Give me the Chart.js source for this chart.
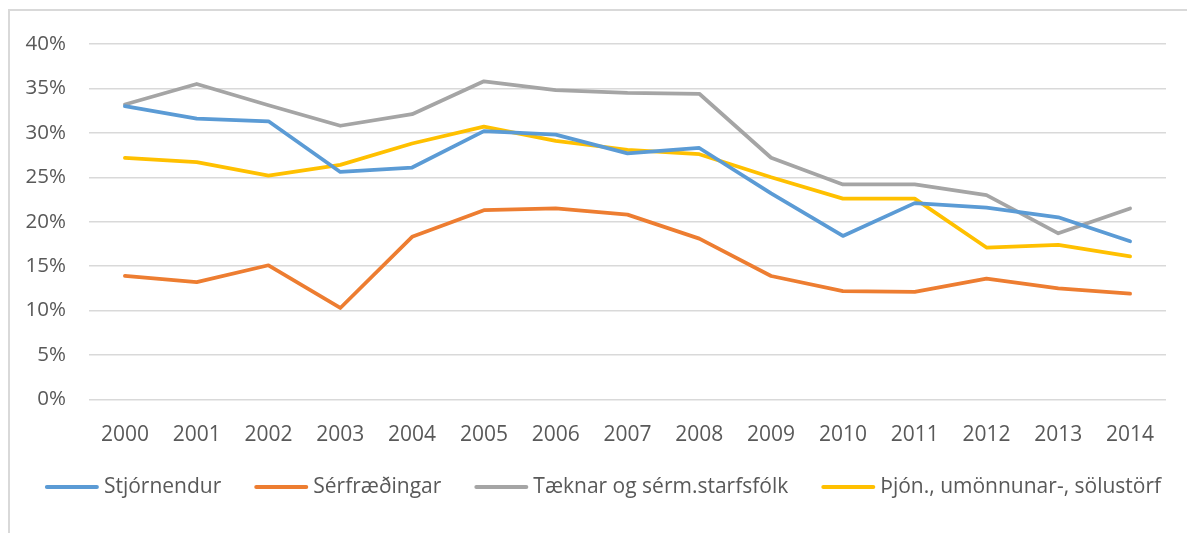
<!DOCTYPE html>
<html>
<head>
<meta charset="utf-8">
<script src="https://cdn.jsdelivr.net/npm/chart.js@4/dist/chart.umd.min.js"></script>
<style>
  html, body { margin: 0; padding: 0; background: #fff; }
  #wrap { position: relative; width: 1187px; height: 533px; overflow: hidden; }
  #frame { position: absolute; left: 8px; top: 9px; width: 1300px; height: 600px;
           border-top: 2px solid #d9d9d9; border-left: 2px solid #d9d9d9; }
  canvas { position: absolute; left: 0; top: 0; }
</style>
</head>
<body>
<div id="wrap">
  <div id="frame"></div>
  <canvas id="myChart" width="1187" height="533"></canvas>
</div>
<script>
const years = ['2000', '2001', '2002', '2003', '2004', '2005', '2006', '2007',
               '2008', '2009', '2010', '2011', '2012', '2013', '2014'];

const stjornendur  = [33.0, 31.6, 31.3, 25.6, 26.1, 30.2, 29.8, 27.7, 28.3, 23.2, 18.4, 22.1, 21.6, 20.5, 17.8];
const serfraedingar = [13.9, 13.2, 15.1, 10.3, 18.3, 21.3, 21.5, 20.8, 18.1, 13.9, 12.2, 12.1, 13.6, 12.5, 11.9];
const taeknar      = [33.2, 35.5, 33.1, 30.8, 32.1, 35.8, 34.8, 34.5, 34.4, 27.2, 24.2, 24.2, 23.0, 18.7, 21.5];
const thjon        = [27.2, 26.7, 25.2, 26.4, 28.8, 30.7, 29.1, 28.1, 27.6, 25.0, 22.6, 22.6, 17.1, 17.4, 16.1];

const seriesNames = ['Stjórnendur', 'Sérfræðingar', 'Tæknar og sérm.starfsfólk', 'Þjón., umönnunar-, sölustörf'];
const seriesColors = ['#5b9bd5', '#ed7d31', '#a5a5a5', '#ffc000'];

const yTicks = [0, 5, 10, 15, 20, 25, 30, 35, 40];

const textColor = '#595959';
const fontFamily = '"Open Sans", sans-serif';

// legend drawn under the plot: short line + label, like the office chart
const lineLegend = {
    id: 'lineLegend',
    afterDraw(chart) {
        const ctx = chart.ctx;
        const sets = chart.data.datasets;
        ctx.save();
        ctx.font = '21px ' + fontFamily;
        const widths = sets.map(d => 54 + 5 + ctx.measureText(d.label).width);
        const gap = 33;
        const total = widths.reduce((a, b) => a + b, 0) + gap * (sets.length - 1);
        let x = 603 - total / 2;
        const y = 487;
        sets.forEach((d, i) => {
            ctx.strokeStyle = d.borderColor;
            ctx.lineWidth = 4;
            ctx.lineCap = 'round';
            ctx.beginPath();
            ctx.moveTo(x + 2, y);
            ctx.lineTo(x + 52, y);
            ctx.stroke();
            ctx.fillStyle = textColor;
            ctx.textBaseline = 'middle';
            ctx.textAlign = 'left';
            ctx.fillText(d.label, x + 59, y);
            x += widths[i] + gap;
        });
        ctx.restore();
    }
};

const values = [stjornendur, serfraedingar, taeknar, thjon];

new Chart(document.getElementById('myChart'), {
    type: 'line',
    data: {
        labels: years,
        datasets: values.map((v, i) => ({
            label: seriesNames[i],
            data: v,
            borderColor: seriesColors[i],
            backgroundColor: seriesColors[i],
            borderWidth: 3.75,
            borderJoinStyle: 'round',
            borderCapStyle: 'round',
            pointRadius: 0,
            tension: 0,
            fill: false,
        }))
    },
    options: {
        responsive: false,
        animation: false,
        layout: {
            padding: { top: 44, right: 21, bottom: 73.5, left: 0 }
        },
        plugins: {
            legend: { display: false },
            tooltip: { enabled: false },
        },
        scales: {
            x: {
                offset: true,
                grid: { display: false },
                border: { display: false },
                ticks: {
                    color: textColor,
                    font: { family: fontFamily, size: 21 },
                    padding: 15,
                    maxRotation: 0,
                },
                afterFit: (scale) => { scale.height = 60; },
            },
            y: {
                min: 0,
                max: 40,
                afterBuildTicks: (scale) => { scale.ticks = yTicks.map(v => ({ value: v })); },
                grid: { color: '#d9d9d9', lineWidth: 1.5, drawTicks: false },
                border: { display: false },
                ticks: {
                    color: textColor,
                    font: { family: fontFamily, size: 20.5 },
                    padding: 23,
                    callback: (v) => v + '%',
                },
                afterFit: (scale) => { scale.width = 89; },
            }
        }
    },
    plugins: [lineLegend]
});
</script>
</body>
</html>
